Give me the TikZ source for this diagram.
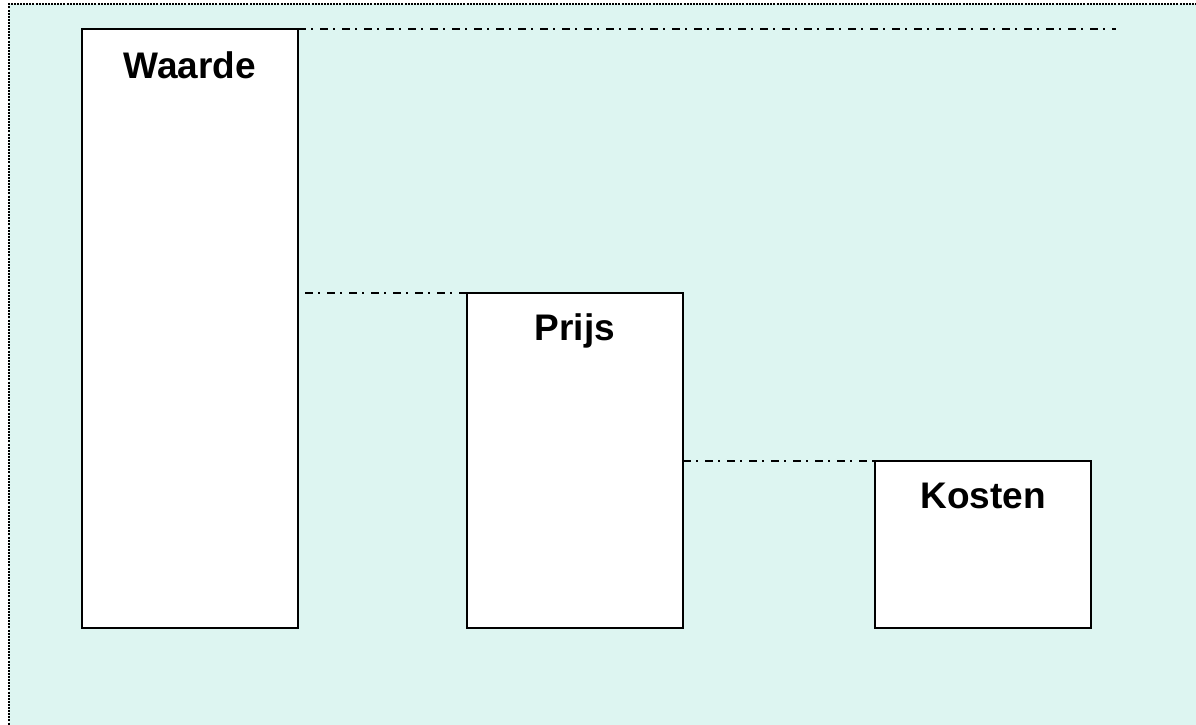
\documentclass[tikz,border=0pt]{standalone}
\usepackage{fontspec}
\setmainfont{Liberation Sans}
\definecolor{bgcyan}{RGB}{221,245,241}
\tikzset{
  bar/.style={draw=black, fill=white, line width=1.4pt},
  lbl/.style={anchor=base, font=\bfseries\fontsize{37}{44}\selectfont, inner sep=0pt},
  guide/.style={line width=1.4pt, dash pattern=on 8pt off 5pt on 2pt off 7pt},
}
\begin{document}
\begin{tikzpicture}[x=1pt,y=-1pt]
\useasboundingbox (0,0) rectangle (1196,724);
\begin{scope}
\clip (0,0) rectangle (1196,724);
\fill[bgcyan] (9,4) rectangle (1210,740);
\draw[line width=2pt, dash pattern=on 2pt off 1.1pt] (9,740) -- (9,4) -- (1210,4);
\end{scope}
% bars
\draw[bar] (82,29) rectangle (298,628);
\draw[bar] (467,293) rectangle (683,628);
\draw[bar] (875,461) rectangle (1091,628);
\coordinate (wTR) at (298,29);
\coordinate (wR) at (305,293);
\coordinate (pTL) at (467,293);
\coordinate (pR) at (683,461);
\coordinate (kTL) at (875,461);
\coordinate (topEnd) at (1116,29);
\draw[guide] (wTR) -- (topEnd);
\draw[guide] (wR) -- (pTL);
\draw[guide] (pR) -- (kTL);
\node[lbl] (waarde) at (190,78) {Waarde};
\node[lbl] (prijs) at (575,340) {Prijs};
\node[lbl] (kosten) at (983,508) {Kosten};
\end{tikzpicture}
\end{document}
